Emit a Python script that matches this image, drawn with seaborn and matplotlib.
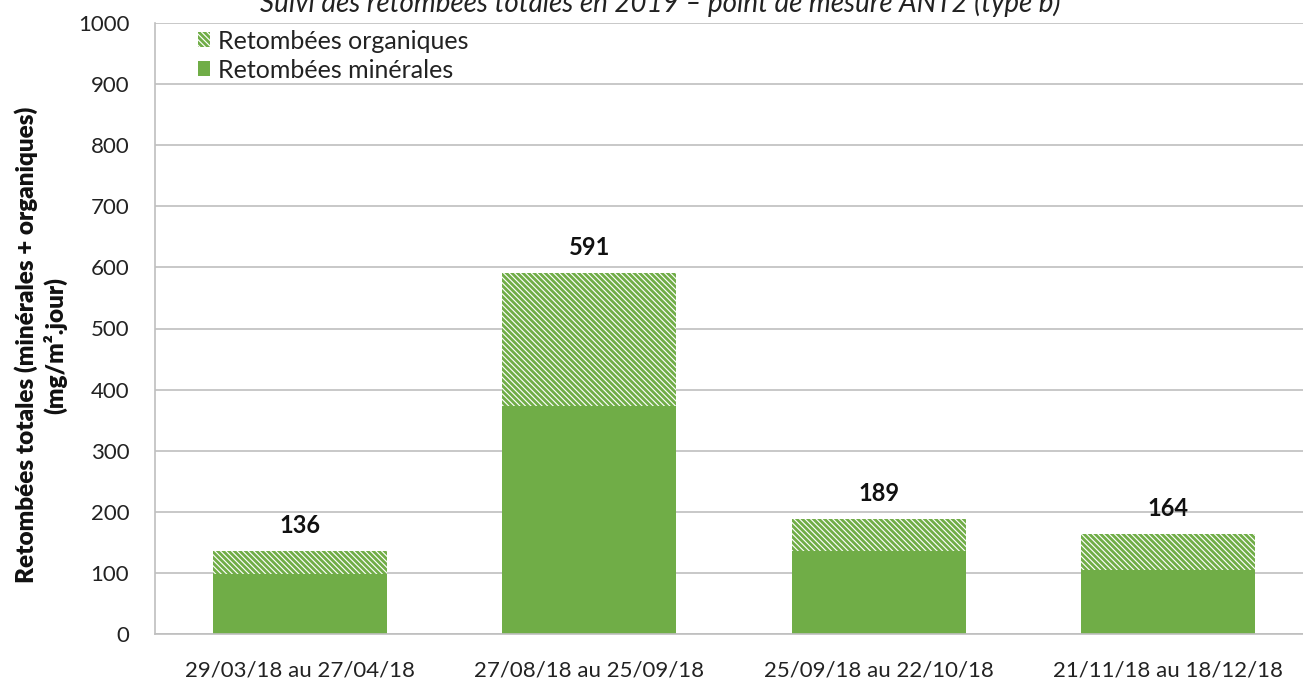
import matplotlib
matplotlib.use("Agg")
import matplotlib.pyplot as plt
from matplotlib.patches import Patch
from matplotlib.ticker import FixedLocator, MultipleLocator
import seaborn as sns
import pandas as pd

# ---- data ----
categories = ["29/03/18 au 27/04/18", "27/08/18 au 25/09/18",
              "25/09/18 au 22/10/18", "21/11/18 au 18/12/18"]
mineral = [98, 373, 136, 104]
totals = [136, 591, 189, 164]
series_names = ["Retombées organiques", "Retombées minérales"]
title = "Suivi des retombées totales en 2019 – point de mesure ANT2 (type b)"
ylabel = "Retombées totales (minérales + organiques)\n(mg/m².jour)"

GREEN = "#70AD47"
GRID = "#BFBFBF"
HATCH = "\\\\\\\\\\\\"

sns.set_theme(style="white")
plt.rcParams["font.family"] = ["Lato", "DejaVu Sans"]
plt.rcParams["hatch.linewidth"] = 2.0

df = pd.DataFrame({"cat": categories, "mineral": mineral, "total": totals})

W, H = 1303, 682
fig = plt.figure(figsize=(W / 100, H / 100), dpi=100)
ax = fig.add_axes([155 / W, (H - 634) / H, (1313 - 155) / W, (634 - 23) / H])

# organic (stacked on top): draw totals hatched
sns.barplot(data=df, x="cat", y="total", color=GREEN, saturation=1,
            width=0.6, ax=ax, errorbar=None)
tot_container = ax.containers[-1]
for p in tot_container:
    p.set_facecolor("white")
    p.set_edgecolor(GREEN)
    p.set_hatch(HATCH)
    p.set_linewidth(0)

sns.barplot(data=df, x="cat", y="mineral", color=GREEN, saturation=1,
            width=0.6, ax=ax, errorbar=None)
for p in ax.containers[-1]:
    p.set_linewidth(0)

ax.bar_label(tot_container, labels=[str(v) for v in totals], padding=10,
             fontsize=17, fontweight="bold", color="#111111")

ax.set_ylim(0, 1000)
ax.set_xlim(-0.5, 3.5)
ax.yaxis.set_major_locator(MultipleLocator(100))
ax.grid(axis="y", color=GRID, linewidth=1.2)
ax.set_axisbelow(True)

for s in ["top", "right"]:
    ax.spines[s].set_visible(False)
for s in ["left", "bottom"]:
    ax.spines[s].set_color(GRID)
    ax.spines[s].set_linewidth(1.2)

ax.tick_params(axis="y", which="major", length=6.5, color=GRID, width=1.2,
               labelsize=16, labelcolor="#222222", pad=12)
ax.tick_params(axis="x", which="major", length=0, labelsize=16,
               labelcolor="#222222", pad=19)
ax.xaxis.set_minor_locator(FixedLocator([-0.5, 0.5, 1.5, 2.5, 3.5]))
ax.tick_params(axis="x", which="minor", length=7, color=GRID, width=1.2)

ax.set_xlabel("")
ax.set_ylabel(ylabel, fontsize=17.5, fontweight="heavy", color="#111111",
              linespacing=1.25)
ax.yaxis.set_label_coords((67 - 155) / 1158, (634 - 345) / 611)

handles = [
    Patch(facecolor="white", edgecolor=GREEN, hatch=HATCH, linewidth=0),
    Patch(facecolor=GREEN, edgecolor=GREEN, linewidth=0),
]
leg = ax.legend(handles, series_names, loc="upper left",
                bbox_to_anchor=(0.022, 1.018), frameon=False, fontsize=18,
                handlelength=0.5, handleheight=0.55, handletextpad=0.3,
                labelspacing=0.25, borderaxespad=0.3)
for t in leg.get_texts():
    t.set_color("#222222")

fig.text(660 / W, 1 - 12 / H, title, ha="center", va="baseline",
         fontsize=20, fontstyle="italic", color="#222222")

fig.savefig("out.png", dpi=100)
